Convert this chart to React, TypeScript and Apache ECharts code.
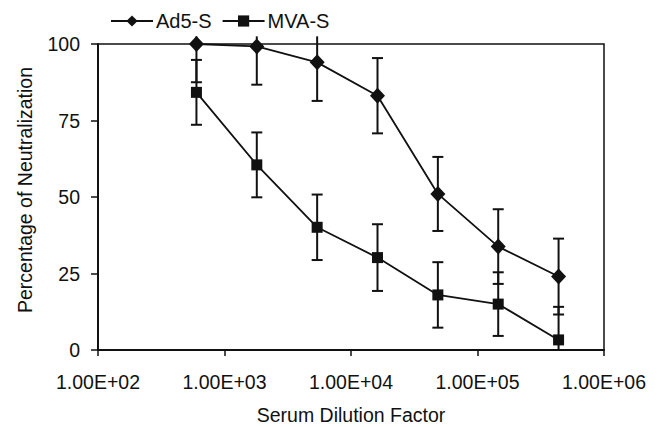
import React, { useEffect, useRef } from "react";
import * as echarts from "echarts";

const dilutions = [600, 1800, 5400, 16200, 48600, 145800, 437400];
const ad5Values = [100, 99.2, 94, 83.1, 51, 33.8, 24];
const ad5Errors = [12.5, 12.5, 12.6, 12.3, 12.1, 12.2, 12.4];
const mvaValues = [84.2, 60.5, 40.1, 30.2, 18, 15, 3.3];
const mvaErrors = [10.6, 10.6, 10.7, 10.9, 10.7, 10.4, 10.8];
const yTicks = [0, 25, 50, 75, 100];
const seriesNames = ["Ad5-S", "MVA-S"];

const FONT = "'Liberation Sans', Arial, Helvetica, sans-serif";
const INK = "#111";
const CLIP_TOP = 102.5;
const CLIP_BOTTOM = 0;

function fmtExp(v: number): string {
  const exp = Math.round(Math.log10(v));
  const mant = v / Math.pow(10, exp);
  return `${mant.toFixed(2)}E${exp >= 0 ? "+" : "-"}${String(Math.abs(exp)).padStart(2, "0")}`;
}

function errorSeries(values: number[], errors: number[]) {
  const data = dilutions.map((x, i) => [x, values[i] - errors[i], values[i] + errors[i]]);
  return {
    type: "custom",
    silent: true,
    z: 3,
    data,
    renderItem: (params: any, api: any) => {
      const x = api.value(0);
      const lo = api.value(1);
      const hi = api.value(2);
      const loC = Math.max(lo, CLIP_BOTTOM);
      const hiC = Math.min(hi, CLIP_TOP);
      const pLo = api.coord([x, loC]);
      const pHi = api.coord([x, hiC]);
      const cap = 5.5;
      const style = { stroke: INK, lineWidth: 2 };
      const children: any[] = [
        { type: "line", shape: { x1: pLo[0], y1: pLo[1], x2: pHi[0], y2: pHi[1] }, style },
      ];
      if (hi <= CLIP_TOP) {
        children.push({ type: "line", shape: { x1: pHi[0] - cap, y1: pHi[1], x2: pHi[0] + cap, y2: pHi[1] }, style });
      }
      if (lo >= CLIP_BOTTOM) {
        children.push({ type: "line", shape: { x1: pLo[0] - cap, y1: pLo[1], x2: pLo[0] + cap, y2: pLo[1] }, style });
      }
      return { type: "group", children };
    },
  };
}

export default function App() {
  const ref = useRef<HTMLDivElement>(null);
  useEffect(() => {
    if (!ref.current) return;
    const chart = echarts.init(ref.current, null, { renderer: "svg" });
    chart.setOption({
      animation: false,
      backgroundColor: "#fff",
      textStyle: { fontFamily: FONT, color: INK },
      legend: {
        data: seriesNames,
        left: 105,
        top: 6,
        itemWidth: 42,
        itemHeight: 14,
        itemGap: 10,
        textStyle: { fontFamily: FONT, fontSize: 20, color: INK, padding: [0, 0, 0, -2] },
      },
      grid: {
        left: 98,
        right: 58,
        top: 44,
        bottom: 77,
        show: true,
        borderColor: INK,
        borderWidth: 1.5,
        containLabel: false,
      },
      xAxis: {
        type: "log",
        logBase: 10,
        min: 100,
        max: 1000000,
        axisLine: { show: true, lineStyle: { color: INK, width: 2 } },
        axisTick: { show: true, inside: false, length: 6, lineStyle: { color: INK, width: 1.5 } },
        splitLine: { show: false },
        axisLabel: {
          formatter: (v: number) => fmtExp(v),
          fontFamily: FONT,
          fontSize: 19.5,
          color: INK,
          margin: 22,
        },
      },
      yAxis: {
        type: "value",
        min: yTicks[0],
        max: yTicks[yTicks.length - 1],
        interval: 25,
        axisLine: { show: true, lineStyle: { color: INK, width: 2 } },
        axisTick: { show: true, inside: false, length: 7, lineStyle: { color: INK, width: 1.5 } },
        splitLine: { show: false },
        axisLabel: { fontFamily: FONT, fontSize: 19.5, color: INK, margin: 18 },
      },
      graphic: [
        {
          type: "text",
          x: 25,
          y: 190,
          rotation: Math.PI / 2,
          style: {
            text: "Percentage of Neutralization",
            font: `19.5px ${FONT}`,
            fill: INK,
            textAlign: "center",
            textVerticalAlign: "middle",
          },
        },
        {
          type: "text",
          x: 351,
          y: 415,
          style: {
            text: "Serum Dilution Factor",
            font: `19.5px ${FONT}`,
            fill: INK,
            textAlign: "center",
            textVerticalAlign: "middle",
          },
        },
      ],
      series: [
        {
          name: seriesNames[0],
          type: "line",
          data: dilutions.map((x, i) => [x, ad5Values[i]]),
          symbol: "diamond",
          symbolSize: [15, 16],
          z: 4,
          lineStyle: { color: INK, width: 1.8 },
          itemStyle: { color: INK },
        },
        {
          name: seriesNames[1],
          type: "line",
          data: dilutions.map((x, i) => [x, mvaValues[i]]),
          symbol: "rect",
          symbolSize: 11,
          z: 4,
          lineStyle: { color: INK, width: 1.8 },
          itemStyle: { color: INK },
        },
        errorSeries(ad5Values, ad5Errors),
        errorSeries(mvaValues, mvaErrors),
      ],
    });
    return () => chart.dispose();
  }, []);
  return <div ref={ref} style={{ width: 662, height: 427, position: "absolute", left: 0, top: 0 }} />;
}
